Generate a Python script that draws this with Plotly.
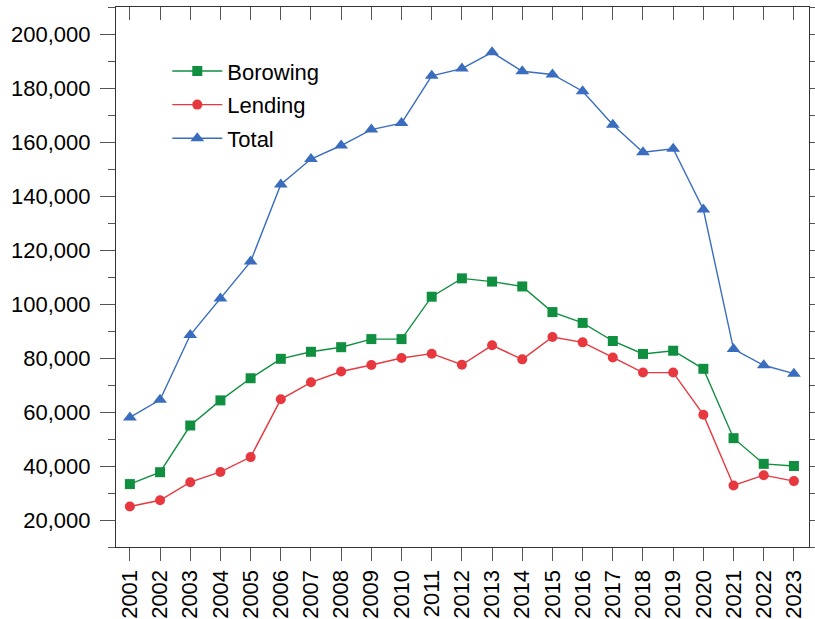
import plotly.graph_objects as go

years = list(range(2001, 2024))
borrowing = [33300, 37700, 55000, 64300, 72500, 79700, 82300, 84000, 87000, 87000,
             102700, 109500, 108300, 106500, 97000, 93000, 86300, 81500, 82700, 76000,
             50300, 40800, 40000]
lending = [25000, 27300, 34000, 37800, 43300, 64700, 71000, 75000, 77400, 80000,
           81600, 77500, 84700, 79500, 87800, 85800, 80200, 74600, 74600, 59000,
           32800, 36600, 34400]
total = [58000, 64500, 88500, 102000, 115700, 144300, 153700, 158700, 164600, 167000,
         184500, 187200, 193200, 186200, 185000, 178800, 166400, 156200, 157500, 135000,
         83300, 77300, 74200]
y_ticks = [20000, 40000, 60000, 80000, 100000, 120000, 140000, 160000, 180000, 200000]

GREEN = "#118F40"
RED = "#E8383F"
BLUE = "#3A6DBE"
FONT = "Liberation Sans, Arial, sans-serif"

fig = go.Figure()
fig.add_trace(go.Scatter(x=years, y=borrowing, name="Borowing", mode="lines+markers",
                         legendgroup="a",
                         line=dict(color=GREEN, width=1.4),
                         marker=dict(symbol="square", size=10, color=GREEN)))
fig.add_trace(go.Scatter(x=years, y=lending, name="Lending", mode="lines+markers",
                         legendgroup="b",
                         line=dict(color=RED, width=1.4),
                         marker=dict(symbol="circle", size=10, color=RED)))
fig.add_trace(go.Scatter(x=years, y=total, name="Total", mode="lines+markers",
                         legendgroup="c",
                         line=dict(color=BLUE, width=1.4),
                         marker=dict(symbol="triangle-up", size=12, color=BLUE)))

xr = [2000.54, 2023.5]
yr = [10000, 210000]

fig.update_layout(
    width=815, height=619,
    margin=dict(l=116, r=6, t=7, b=72),
    paper_bgcolor="white", plot_bgcolor="white",
    font=dict(family=FONT, size=22, color="black"),
    showlegend=True,
    legend=dict(x=0.074, y=0.92, xanchor="left", yanchor="top",
                bgcolor="rgba(0,0,0,0)", font=dict(size=22),
                itemwidth=50, tracegroupgap=2),
    xaxis=dict(range=xr, tickmode="array", tickvals=years,
               ticktext=[str(y) for y in years], tickangle=-90,
               ticks="outside", ticklen=13, tickcolor="#555", tickwidth=1,
               showline=True, linecolor="#333", linewidth=1.2,
               showgrid=False, zeroline=False, automargin=False,
               tickfont=dict(size=22)),
    yaxis=dict(range=yr, tickmode="array", tickvals=y_ticks,
               ticktext=[f"{v:,}" for v in y_ticks],
               ticks="outside", ticklen=15, tickcolor="#555", tickwidth=1,
               ticklabelstandoff=5,
               minor=dict(dtick=10000, tick0=0, ticks="outside", ticklen=7,
                          tickcolor="#555"),
               showline=True, linecolor="#333", linewidth=1.2,
               showgrid=False, zeroline=False, automargin=False,
               tickfont=dict(size=22)),
    xaxis2=dict(range=xr, overlaying="x", side="top", tickmode="array",
                tickvals=years, showticklabels=False,
                ticks="inside", ticklen=13, tickcolor="#555",
                showline=True, linecolor="#333", linewidth=1.2,
                showgrid=False, zeroline=False, automargin=False),
    yaxis2=dict(range=yr, overlaying="y", side="right", tickmode="linear",
                tick0=0, dtick=10000, showticklabels=False,
                ticks="outside", ticklen=6, tickcolor="#555",
                showline=True, linecolor="#333", linewidth=1.2,
                showgrid=False, zeroline=False, automargin=False),
)
# invisible helper trace to activate the mirrored frame axes
fig.add_trace(go.Scatter(x=[years[0]], y=[total[0]], xaxis="x2", yaxis="y2",
                         mode="markers", marker=dict(opacity=0),
                         showlegend=False, hoverinfo="skip"))

fig.write_html("out.html",
               config={"displayModeBar": False},
               post_script="document.body.style.margin='0';"
                           "document.body.style.overflow='hidden';")
